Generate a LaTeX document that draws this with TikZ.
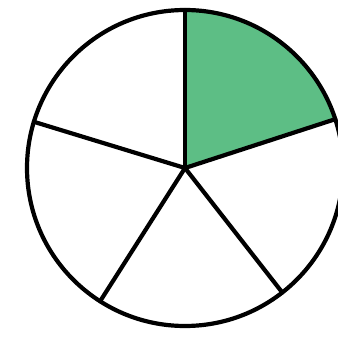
\documentclass[tikz,border=0pt]{standalone}
\usepackage{tikz}
\definecolor{cGreen}{HTML}{5DBE85}

\begin{document}
\begin{tikzpicture}[x=1pt, y=1pt,
  outline/.style={draw=black, line width=4.2pt, line join=round},
  spoke/.style={draw=black, line width=4.2pt, line cap=round},
  part/.style={fill=cGreen}]
  \useasboundingbox (0,0) rectangle (338,338);
  \coordinate (ctr) at (185,170);

  % shaded fifth
  \fill[part] (ctr) -- ++(90:158) arc[start angle=90, end angle=18, radius=158] -- cycle;

  % spokes
  \foreach \ang in {90,18,-52,-122.5,163}
    \draw[spoke] (ctr) -- ++(\ang:158);

  \draw[outline] (ctr) circle[radius=158];
\end{tikzpicture}
\end{document}
